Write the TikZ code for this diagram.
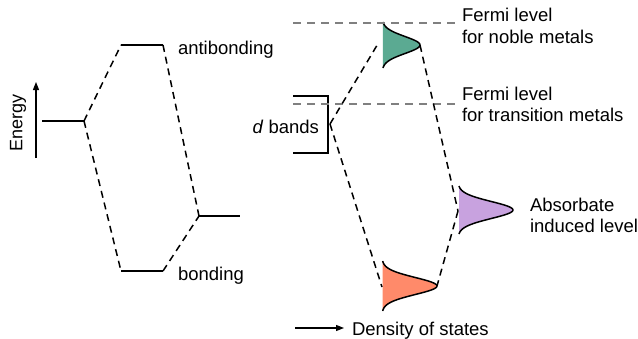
\documentclass[tikz,border=0pt]{standalone}
\usepackage{fontspec}
\setmainfont{Liberation Sans}
\usetikzlibrary{arrows.meta}
\definecolor{tealfill}{HTML}{5BAA92}
\definecolor{purplefill}{HTML}{C8A2DF}
\definecolor{orangefill}{HTML}{FF8A6A}
\definecolor{fermigray}{HTML}{808080}
\tikzset{
  level/.style={line width=1.5pt},
  conn/.style={line width=1.5pt, dash pattern=on 7pt off 5pt},
  fermi/.style={line width=1.5pt, fermigray, dash pattern=on 8pt off 6pt},
  lbl/.style={inner sep=0pt, outer sep=0pt, font=\fontsize{18.5}{22}\selectfont, anchor=base west},
  peakline/.style={line width=1.5pt},
}
\newcommand{\dospeak}[5]{% x0, w, yc, half height, colour
  \fill[#5] plot[domain=-#4:#4, samples=80, smooth] ({#1+#2*exp(-1*(\x/12)*(\x/12))},{#3+\x}) -- cycle;
  \draw[peakline] plot[domain=-#4:#4, samples=80, smooth] ({#1+#2*exp(-1*(\x/12)*(\x/12))},{#3+\x});
}
\begin{document}
\begin{tikzpicture}[x=1pt, y=-1pt]
\useasboundingbox (0,0) rectangle (638,338);
% ---------- left diagram ----------
\coordinate (eA) at (36,158);
\coordinate (eB) at (36,82);
\draw[line width=1.3pt, -{Triangle[length=8pt,width=6pt]}] (eA) -- (eB);
\node[inner sep=0pt, rotate=90, font=\fontsize{18}{20}\selectfont] (energy) at (18,123) {Energy};

\coordinate (L1) at (42,121);  \coordinate (L2) at (84,121);
\coordinate (A1) at (121,45);  \coordinate (A2) at (163,45);
\coordinate (R1) at (199,216); \coordinate (R2) at (240,216);
\coordinate (B1) at (121,271); \coordinate (B2) at (163,271);
\draw[level] (L1) -- (L2);
\draw[level] (A1) -- (A2);
\draw[level] (R1) -- (R2);
\draw[level] (B1) -- (B2);
\draw[conn] (L2) -- (A1);
\draw[conn] (L2) -- (B1);
\draw[conn] (A2) -- (R1);
\draw[conn] (B2) -- (R1);
\node[lbl] (anti) at (178,54) {antibonding};
\node[lbl] (bond) at (178,280) {bonding};

% ---------- right diagram ----------
\coordinate (F1a) at (293,23);  \coordinate (F1b) at (456,23);
\coordinate (F2a) at (293,104); \coordinate (F2b) at (456,104);

% d band bracket
\coordinate (dT) at (293,96); \coordinate (dTR) at (328,96);
\coordinate (dBR) at (328,153); \coordinate (dB) at (293,153);
\draw[level] (dT) -- (dTR) -- (dBR) -- (dB);
\node[lbl, anchor=base east] (dband) at (319,133) {\textit{d} bands};
\coordinate (dM) at (330,124);

% peaks
\dospeak{382}{38}{45}{23}{tealfill}
\dospeak{458}{55}{210}{24}{purplefill}
\dospeak{382}{55}{286}{25}{orangefill}
\coordinate (tealL) at (379,42);
\coordinate (tealP) at (420,45);
\coordinate (purL) at (458,211);
\coordinate (oraL) at (382,287);
\coordinate (oraP) at (437,286);

\draw[fermi] (F1a) -- (F1b);
\draw[fermi] (F2a) -- (F2b);

\draw[conn] (dM) -- (tealL);
\draw[conn] (dM) -- (oraL);
\draw[conn] (tealP) -- (purL);
\draw[conn] (purL) -- (oraP);

\node[lbl] (fn1) at (462,21) {Fermi level};
\node[lbl] (fn2) at (462,43) {for noble metals};
\node[lbl] (ft1) at (462,100) {Fermi level};
\node[lbl] (ft2) at (462,121) {for transition metals};
\node[lbl] (ads1) at (530,211) {Absorbate};
\node[lbl] (ads2) at (530,232) {induced level};

\coordinate (dosA) at (295,328);
\coordinate (dosB) at (344,328);
\draw[line width=1.3pt, -{Triangle[length=8pt,width=6pt]}] (dosA) -- (dosB);
\node[lbl] (dos) at (352,335) {Density of states};
\end{tikzpicture}
\end{document}
